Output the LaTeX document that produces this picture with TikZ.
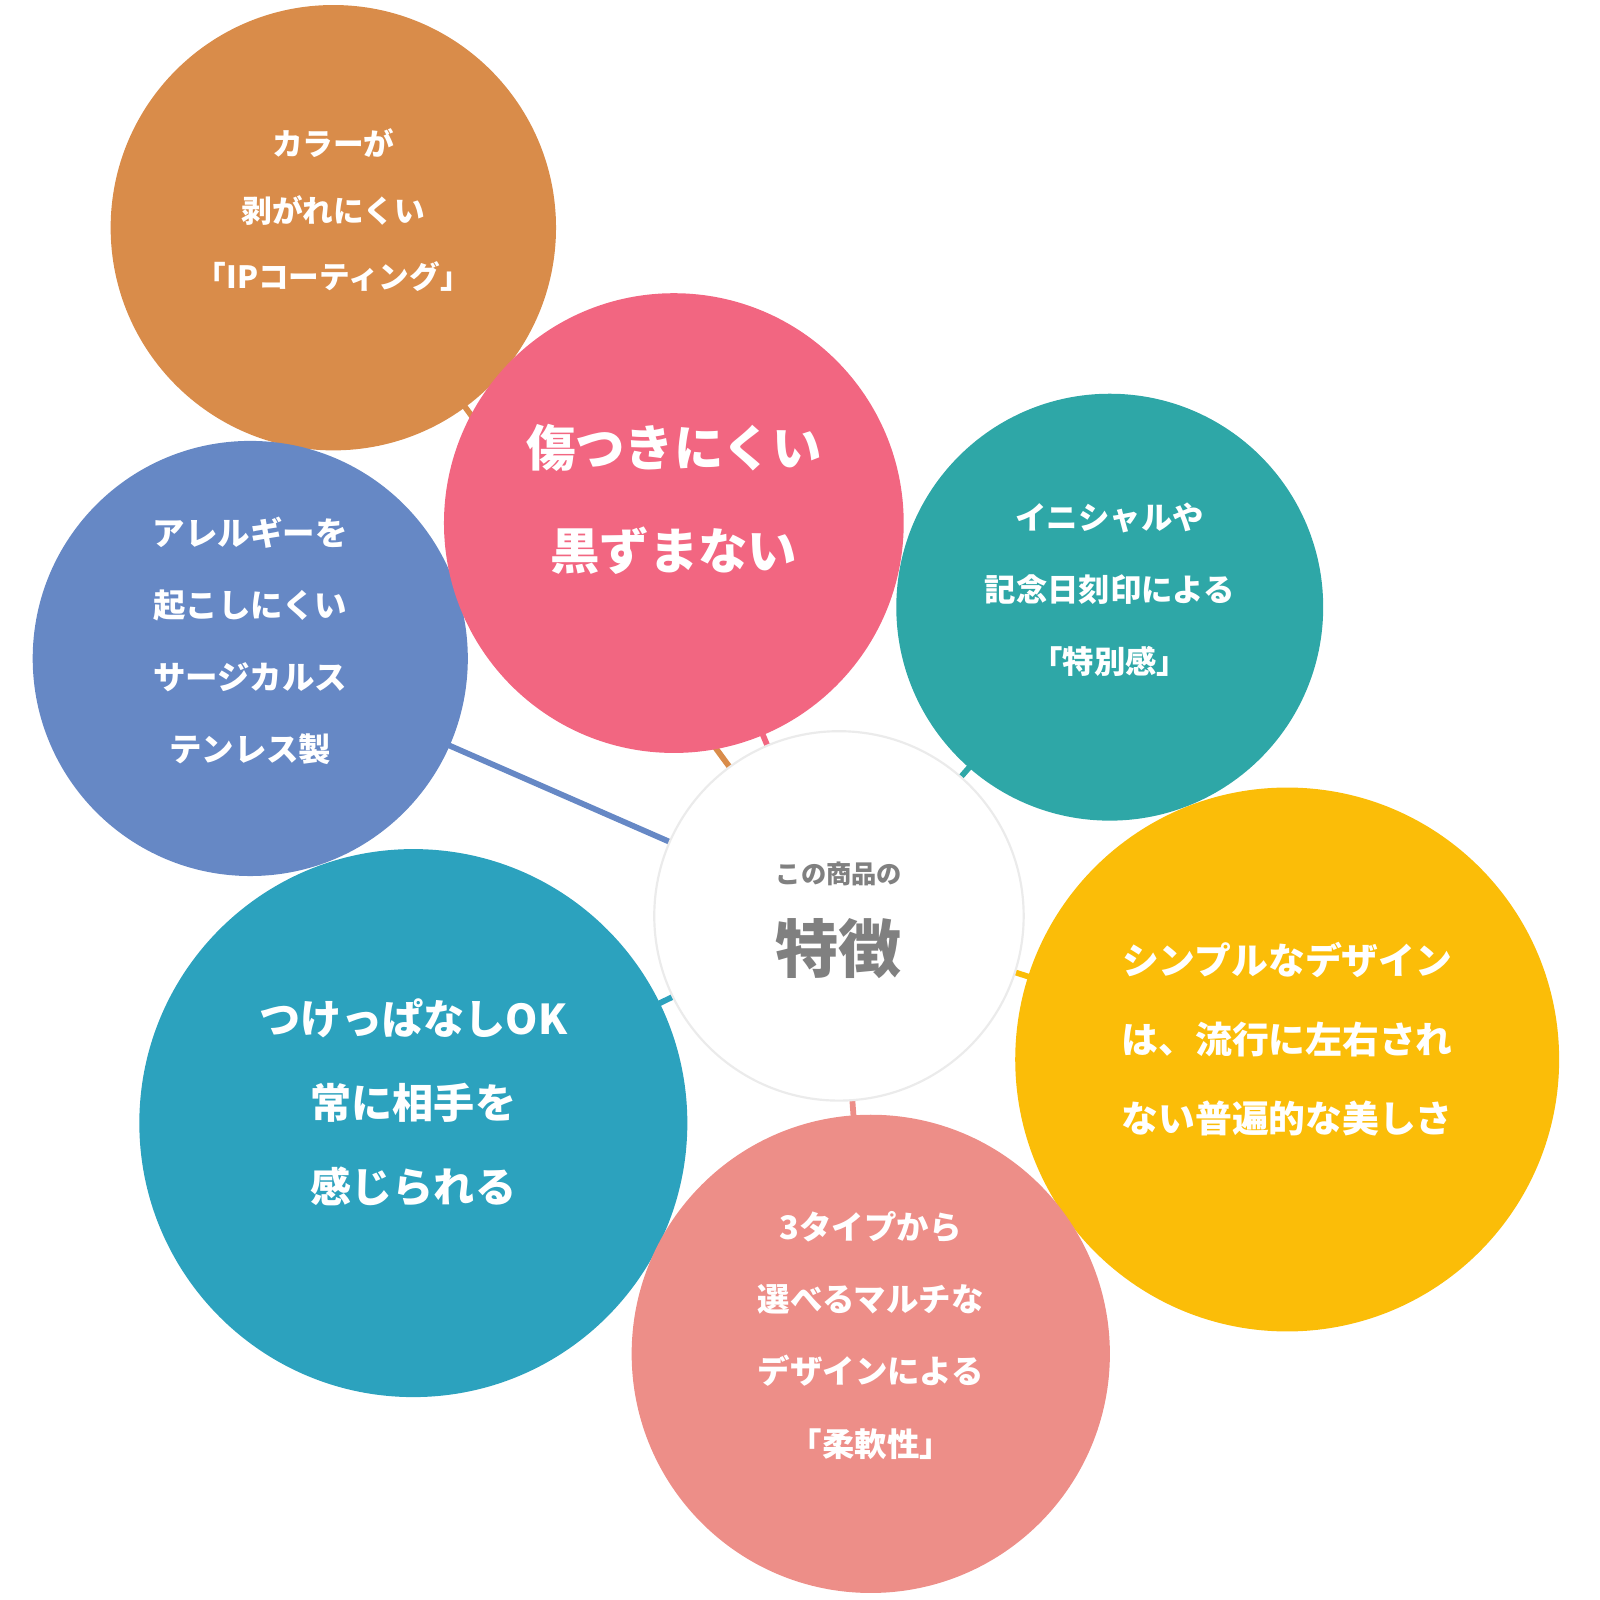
\documentclass[tikz,border=0pt]{standalone}
\usepackage{fontspec}
\setmainfont{Noto Sans CJK JP}
\begin{document}
\begin{tikzpicture}[x=0.01cm,y=-0.01cm]
  \definecolor{clorange}{HTML}{D98C4A}
  \definecolor{clpink}{HTML}{F26681}
  \definecolor{clblue}{HTML}{6688C5}
  \definecolor{clgreen}{HTML}{2EA7A7}
  \definecolor{clyellow}{HTML}{FBBD08}
  \definecolor{clteal}{HTML}{2CA2BE}
  \definecolor{clsalmon}{HTML}{ED8E88}
  \tikzset{
    bubble/.style={circle, inner sep=0pt, minimum size=#1},
    link/.style={line width=1.6pt},
    txt/.style={text=white, align=center}
  }
  \useasboundingbox (0,0) rectangle (1560,1560);
  % centres
  \coordinate (c) at (818,893);
  \coordinate (corange) at (325,222);
  \coordinate (cpink) at (657,510);
  \coordinate (cblue) at (244,642);
  \coordinate (cgreen) at (1082,592);
  \coordinate (cyellow) at (1255,1033);
  \coordinate (cteal) at (403,1095);
  \coordinate (csalmon) at (849,1320);
  % links behind
  \draw[link, clorange] (c) -- (corange);
  \draw[link, clpink] (c) -- (cpink);
  \draw[link, clblue] (c) -- (cblue);
  \draw[link, clgreen] (c) -- (cgreen);
  \draw[link, clyellow] (c) -- (cyellow);
  \draw[link, clteal] (c) -- (cteal);
  \draw[link, clsalmon] (c) -- (csalmon);
  % bubbles
  \node[bubble=4.34cm, fill=clorange] (orange) at (corange) {};
  \node[bubble=4.24cm, fill=clblue] (blue) at (cblue) {};
  \node[bubble=4.48cm, fill=clpink] (pink) at (cpink) {};
  \node[bubble=4.16cm, fill=clgreen] (green) at (cgreen) {};
  \node[bubble=5.30cm, fill=clyellow] (yellow) at (cyellow) {};
  \node[bubble=5.34cm, fill=clteal] (teal) at (cteal) {};
  \node[bubble=4.66cm, fill=clsalmon] (salmon) at (csalmon) {};
  \node[bubble=3.60cm, fill=white, draw=black!8, line width=0.6pt] (main) at (c) {};
  % texts
  \node[txt, font=\fontsize{8.5}{18.5}\selectfont\bfseries] (torange) at (325,205)
    {カラーが\\剥がれにくい\\「IPコーティング」};
  \node[txt, font=\fontsize{13.7}{28.5}\selectfont\bfseries] (tpink) at (657,487)
    {傷つきにくい\\黒ずまない};
  \node[txt, font=\fontsize{9}{20}\selectfont\bfseries] (tblue) at (244,625)
    {アレルギーを\\起こしにくい\\サージカルス\\テンレス製};
  \node[txt, font=\fontsize{8.7}{20}\selectfont\bfseries] (tgreen) at (1082,575)
    {イニシャルや\\記念日刻印による\\「特別感」};
  \node[txt, font=\fontsize{10.2}{22}\selectfont\bfseries] (tyellow) at (1255,1013)
    {シンプルなデザイン\\は、流行に左右され\\ない普遍的な美しさ};
  \node[txt, font=\fontsize{11.4}{23.3}\selectfont\bfseries] (tteal) at (403,1075)
    {つけっぱなしOK\\常に相手を\\感じられる};
  \node[txt, font=\fontsize{9}{20}\selectfont\bfseries] (tsalmon) at (849,1302)
    {3タイプから\\選べるマルチな\\デザインによる\\「柔軟性」};
  \node[text=black!50, font=\fontsize{7}{8}\selectfont\bfseries] (tsub) at (818,852) {この商品の};
  \node[text=black!50, font=\fontsize{17.5}{20}\selectfont\bfseries] (tmain) at (818,925) {特徴};
\end{tikzpicture}
\end{document}
